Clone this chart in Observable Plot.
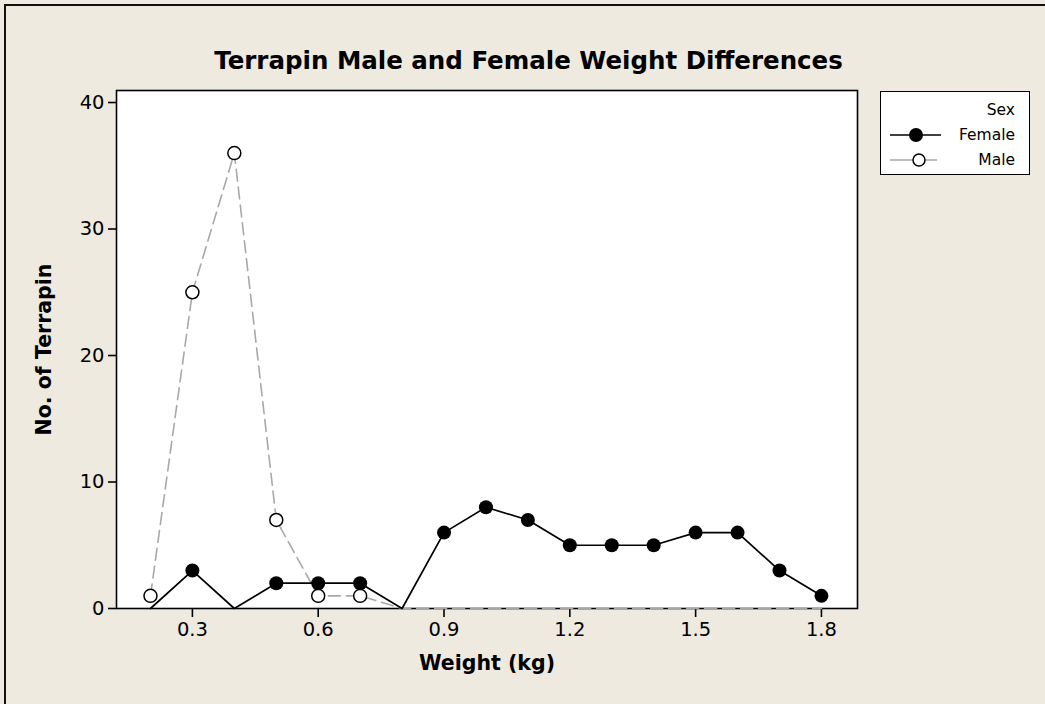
<!DOCTYPE html>
<html>
<head>
<meta charset="utf-8">
<script src="https://cdn.jsdelivr.net/npm/d3@7"></script>
<script src="https://cdn.jsdelivr.net/npm/@observablehq/plot@0.6"></script>
<style>
  html, body { margin:0; padding:0; width:1045px; height:704px; overflow:hidden; background:#EEEAE0; }
  #border { position:absolute; left:4px; top:4px; width:1100px; height:800px; border-top:2px solid #111; border-left:2px solid #111; box-sizing:border-box; }
  #title { position:absolute; left:0; width:1057px; top:46px; text-align:center; font-family:"DejaVu Sans"; font-weight:bold; font-size:24.5px; color:#000; }
  #chart { position:absolute; left:0; top:80px; }
  #legend { position:absolute; left:880px; top:91px; width:150px; height:84px; border:1.5px solid #000; box-sizing:border-box; background:#fff; font-family:"DejaVu Sans"; font-size:15.5px; }
  #legend .row { position:absolute; left:0; width:100%; height:20px; }
  #legend .lab { position:absolute; right:14px; top:0; line-height:20px; }
  #legend svg { position:absolute; left:7px; top:0; }
  g[aria-label="x-axis label"] text, g[aria-label="y-axis label"] text { font-weight:bold; font-size:20.5px; }
  g[aria-label="x-axis tick"], g[aria-label="y-axis tick"] { stroke-width:1.6; }
</style>
</head>
<body>
<div id="border"></div>
<div id="title">Terrapin Male and Female Weight Differences</div>
<div id="chart"></div>
<div id="legend"></div>
<script>
const weights = [0.2,0.3,0.4,0.5,0.6,0.7,0.8,0.9,1.0,1.1,1.2,1.3,1.4,1.5,1.6,1.7,1.8];
const female  = [0,3,0,2,2,2,0,6,8,7,5,5,5,6,6,3,1];
const male    = [1,25,36,7,1,1,0,0,0,0,0,0,0,0,0,0,0];
const xTicks = [0.3,0.6,0.9,1.2,1.5,1.8];
const yTicks = [0,10,20,30,40];
const seriesNames = ["Female","Male"];

const femaleRows = weights.map((w,i) => ({weight:w, count:female[i], sex:"Female"}));
const maleRows   = weights.map((w,i) => ({weight:w, count:male[i], sex:"Male"}));

const chart = Plot.plot({
  width:1045, height:600,
  marginLeft:116, marginRight:188, marginTop:10, marginBottom:72,
  style:{background:"transparent", fontFamily:"DejaVu Sans", fontSize:"19.5px", color:"#000", overflow:"visible"},
  x:{domain:[0.119,1.886], ticks:xTicks, tickFormat:d3.format(".1f"), tickSize:9, tickPadding:5, label:"Weight (kg)", labelAnchor:"center", labelOffset:61, labelArrow:"none"},
  y:{domain:[0,40.95], ticks:yTicks, tickSize:8, tickPadding:4, label:"No. of Terrapin", labelAnchor:"center", labelOffset:80, labelArrow:"none"},
  marks:[
    Plot.frame({fill:"white"}),
    Plot.frame({stroke:"#000", strokeWidth:1.6}),
    Plot.line(maleRows, {x:"weight", y:"count", stroke:"#A8A8A8", strokeWidth:1.6, strokeDasharray:"12,6"}),
    Plot.line(femaleRows, {x:"weight", y:"count", stroke:"#000", strokeWidth:1.7}),
    Plot.dot(maleRows.filter(d => d.count > 0), {x:"weight", y:"count", r:6.5, fill:"white", stroke:"#000", strokeWidth:1.5}),
    Plot.dot(femaleRows.filter(d => d.count > 0), {x:"weight", y:"count", r:7, fill:"#000", stroke:"none"})
  ]
});
document.getElementById("chart").appendChild(chart);

// legend
const legend = document.getElementById("legend");
const head = document.createElement("div");
head.className = "row"; head.style.top = "8px";
head.innerHTML = '<span class="lab">Sex</span>';
legend.appendChild(head);
const styles = {
  Female: {stroke:"#000", fill:"#000", r:7, mstroke:"none"},
  Male: {stroke:"#A8A8A8", fill:"#fff", r:6, mstroke:"#000"}
};
seriesNames.forEach((name, i) => {
  const s = styles[name];
  const row = document.createElement("div");
  row.className = "row"; row.style.top = (33 + i*25) + "px";
  const lineEnd = name === "Female" ? 53 : 49;
  row.innerHTML = `<svg width="60" height="20"><line x1="2" x2="${lineEnd}" y1="10" y2="10" stroke="${s.stroke}" stroke-width="1.6"/><circle cx="${name==="Female"?28:31}" cy="10" r="${s.r}" fill="${s.fill}" stroke="${s.mstroke}" stroke-width="1.5"/></svg><span class="lab">${name}</span>`;
  legend.appendChild(row);
});
</script>
</body>
</html>
